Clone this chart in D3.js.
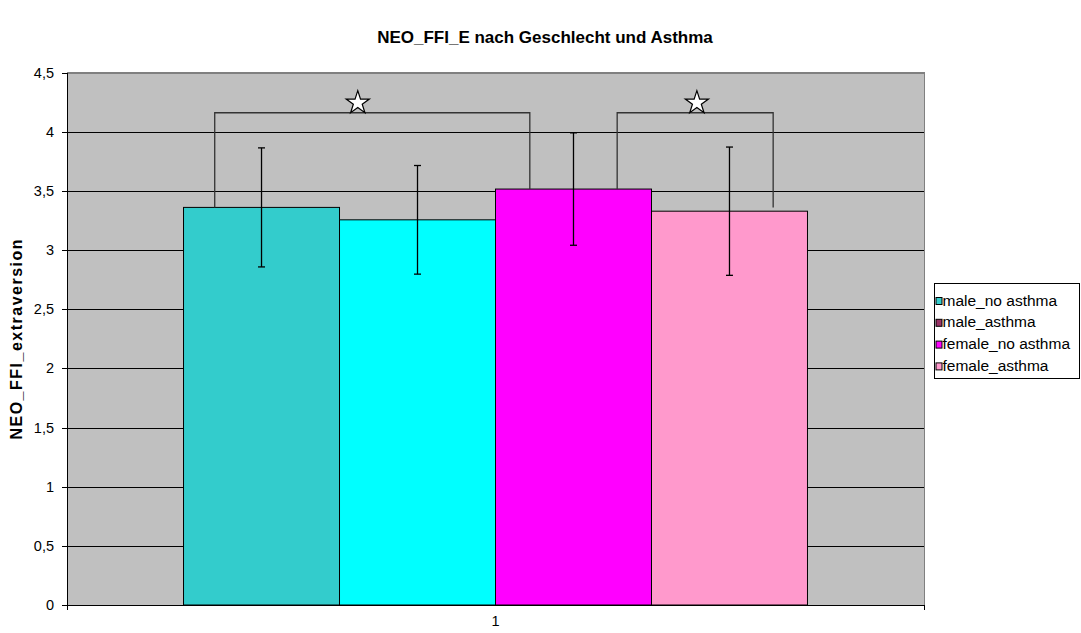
<!DOCTYPE html>
<html>
<head>
<meta charset="utf-8">
<script src="https://cdn.jsdelivr.net/npm/d3@7"></script>
<style>
  body { margin: 0; background: #fff; }
  svg text { font-family: Arial, "Liberation Sans", sans-serif; fill: #000; }
  .axis path, .axis line { stroke: #000; shape-rendering: crispEdges; }
  .axis text { font-size: 14.5px; }
</style>
</head>
<body>
<div id="chart"></div>
<script>
// data
var categories = ["1"];
var seriesNames = ["male_no asthma", "male_asthma", "female_no asthma", "female_asthma"];
var means = [3.36, 3.255, 3.515, 3.328];
var errors = [0.503, 0.459, 0.475, 0.542];
var yTicks = [0, 0.5, 1, 1.5, 2, 2.5, 3, 3.5, 4, 4.5];
// significance brackets: which bars, leg end values, top value
var brackets = [
  {from: 0, to: 2, legs: [3.36, 3.515], top: 4.16},
  {from: 2, to: 3, legs: [3.515, 3.36], top: 4.16}
];

var legendColors = ["#33CCCC", "#993366", "#FF00FF", "#FF99CC"];
var barColors = ["#33CCCC", "#00FFFF", "#FF00FF", "#FF99CC"];

function init(){
    var w = 1081;
    var h = 633;
    var left = 67, right = 924, top = 72.5, bottom = 605;

    var svg = d3.select("#chart")
      .append("svg")
      .attr("width", w)
      .attr("height", h);

    var deFormat = d3.formatLocale({decimal: ",", thousands: ".", grouping: [3], currency: ["", "€"]}).format("~g");

    var x0 = d3.scaleBand().domain(categories).range([left, right]);
    var x1 = d3.scaleBand().domain(d3.range(seriesNames.length))
      .range([0, x0.bandwidth()]).paddingOuter(0.747);
    var yScale = d3.scaleLinear().domain([0, 4.5]).range([bottom, top]);

    // plot area
    svg.append("rect")
      .attr("x", left).attr("y", top)
      .attr("width", right - left).attr("height", bottom - top)
      .attr("fill", "#C0C0C0")
      .attr("stroke", "#808080")
      .attr("shape-rendering", "crispEdges");

    // gridlines
    svg.append("g").selectAll("line")
      .data(yTicks.filter(function(d){ return d > 0; }))
      .enter().append("line")
      .attr("x1", left).attr("x2", right)
      .attr("y1", function(d){ return Math.round(yScale(d)) + 0.5; })
      .attr("y2", function(d){ return Math.round(yScale(d)) + 0.5; })
      .attr("stroke", function(d){ return d === 4.5 ? "#808080" : "#000"; })
      .attr("stroke-width", 1);

    // bars
    var cat = categories[0];
    svg.append("g").selectAll("rect")
      .data(means)
      .enter().append("rect")
      .attr("x", function(d, i){ return x0(cat) + x1(i); })
      .attr("y", function(d){ return yScale(d); })
      .attr("width", x1.bandwidth())
      .attr("height", function(d){ return bottom - yScale(d); })
      .attr("fill", function(d, i){ return barColors[i]; })
      .attr("stroke", "#000")
      .attr("stroke-width", 1);

    // error bars
    var eb = svg.append("g").attr("stroke", "#000").attr("stroke-width", 1.3);
    means.forEach(function(m, i){
      var cx = x0(cat) + x1(i) + x1.bandwidth() / 2;
      var hi = yScale(m + errors[i]), lo = yScale(m - errors[i]);
      eb.append("line").attr("x1", cx).attr("x2", cx).attr("y1", hi).attr("y2", lo);
      eb.append("line").attr("x1", cx - 3.5).attr("x2", cx + 3.5).attr("y1", hi).attr("y2", hi);
      eb.append("line").attr("x1", cx - 3.5).attr("x2", cx + 3.5).attr("y1", lo).attr("y2", lo);
    });

    // significance brackets (leg offsets inside the bars, star position along the bracket)
    var legFrac = [[0.2, 0.22], [0.78, 0.78]];
    var starAt = [0.454, 0.511];
    var starSize = 167;
    var starR = Math.sqrt(starSize * 0.8908130915292852);
    brackets.forEach(function(b, k){
      var xa = x0(cat) + x1(b.from) + x1.bandwidth() * legFrac[k][0];
      var xb = x0(cat) + x1(b.to) + x1.bandwidth() * legFrac[k][1];
      var yt = yScale(b.top);
      svg.append("path")
        .attr("d", d3.line()([[xa, yScale(b.legs[0])], [xa, yt], [xb, yt], [xb, yScale(b.legs[1])]]))
        .attr("fill", "none")
        .attr("stroke", "#333")
        .attr("stroke-width", 1.3);
      svg.append("path")
        .attr("d", d3.symbol(d3.symbolStar, starSize)())
        .attr("transform", "translate(" + (xa + (xb - xa) * starAt[k]) + "," + (yt - starR * 0.809) + ")")
        .attr("fill", "#fff")
        .attr("stroke", "#000")
        .attr("stroke-width", 1.2);
    });

    // axes
    var yAxis = d3.axisLeft(yScale).tickValues(yTicks).tickFormat(deFormat)
      .tickSize(5).tickPadding(8);
    svg.append("g")
      .attr("class", "axis")
      .attr("transform", "translate(" + left + ",0)")
      .call(yAxis)
      .call(function(g){ g.select(".domain").attr("d", "M0," + top + "V" + bottom); });

    var xAxis = d3.axisBottom(x0).tickSize(0).tickPadding(11);
    svg.append("g")
      .attr("class", "axis")
      .attr("transform", "translate(0," + bottom + ")")
      .call(xAxis)
      .call(function(g){ g.select(".domain").attr("d", "M" + left + ",0H" + right); });

    svg.append("g").selectAll("line")
      .data(x0.range())
      .enter().append("line")
      .attr("x1", function(d){ return Math.round(d) + 0.5; })
      .attr("x2", function(d){ return Math.round(d) + 0.5; })
      .attr("y1", bottom).attr("y2", bottom + 5)
      .attr("stroke", "#000");

    // title
    svg.append("text")
      .attr("x", 545).attr("y", 43)
      .attr("text-anchor", "middle")
      .style("font-size", "17px").style("font-weight", "bold")
      .text("NEO_FFI_E nach Geschlecht und Asthma");

    svg.append("text")
      .attr("transform", "translate(22," + ((top + bottom) / 2) + ") rotate(-90)")
      .attr("text-anchor", "middle")
      .style("font-size", "16px").style("font-weight", "bold")
      .style("letter-spacing", "1.5px")
      .text("NEO_FFI_extraversion");

    legend();

    function legend(){
      var lg = svg.append("g").attr("transform", "translate(934.5,283.5)");
      lg.append("rect")
        .attr("width", 145).attr("height", 95)
        .attr("fill", "#fff").attr("stroke", "#000");
      seriesNames.forEach(function(s, i){
        var yy = 18 + i * 21.8;
        lg.append("rect")
          .attr("x", 1.5).attr("y", yy - 4)
          .attr("width", 6).attr("height", 7)
          .attr("fill", legendColors[i]).attr("stroke", "#000");
        lg.append("text")
          .attr("x", 8).attr("y", yy)
          .attr("dominant-baseline", "middle")
          .style("font-size", "15.5px")
          .text(s);
      });
    }
}

window.onload = init;
</script>
</body>
</html>
